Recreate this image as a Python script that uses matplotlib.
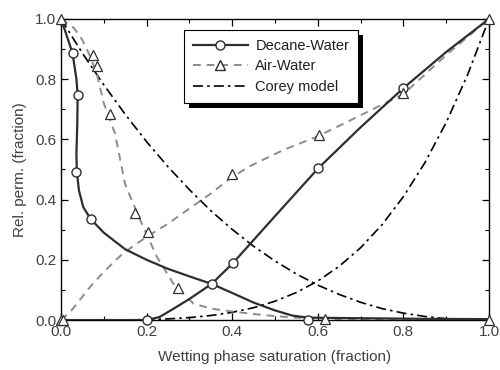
import matplotlib
matplotlib.use("Agg")
import matplotlib.pyplot as plt
from matplotlib.lines import Line2D
from matplotlib.patches import Rectangle
from matplotlib.ticker import MultipleLocator

plt.rcParams['font.family'] = ['Liberation Sans', 'DejaVu Sans']

# measured points (markers)
dw_x = [0.027, 0.040, 0.035, 0.069, 0.352, 0.576, 0.202, 0.401, 0.601, 0.800]
dw_y = [0.886, 0.748, 0.493, 0.336, 0.120, 0.000, 0.000, 0.188, 0.504, 0.770]
aw_x = [0.0, 0.074, 0.083, 0.114, 0.173, 0.204, 0.274, 0.617, 0.0, 0.005, 0.400, 0.603, 0.800, 1.0, 1.0]
aw_y = [1.0, 0.880, 0.845, 0.684, 0.354, 0.293, 0.105, 0.003, 0.0, 0.0, 0.485, 0.615, 0.753, 1.0, 0.0]

# fitted curves
dw_nw_x = [0.0, 0.012, 0.027, 0.036, 0.039, 0.038, 0.036, 0.037, 0.042, 0.052, 0.069, 0.10, 0.15, 0.20,
           0.25, 0.30, 0.352, 0.40, 0.45, 0.50, 0.54, 0.576, 0.70, 0.85, 1.0]
dw_nw_y = [1.0, 0.95, 0.886, 0.80, 0.748, 0.65, 0.55, 0.493, 0.43, 0.375, 0.336, 0.29, 0.235, 0.20,
           0.17, 0.145, 0.12, 0.09, 0.058, 0.032, 0.015, 0.008, 0.006, 0.004, 0.003]
dw_w_x = [0.0, 0.10, 0.20, 0.23, 0.26, 0.30, 0.352, 0.401, 0.50, 0.601, 0.70, 0.80, 0.90, 1.0]
dw_w_y = [0.0, 0.0, 0.0, 0.01, 0.035, 0.07, 0.12, 0.188, 0.345, 0.504, 0.64, 0.77, 0.89, 1.0]

aw_nw_x = [0.0, 0.03, 0.05, 0.07, 0.085, 0.10, 0.126, 0.15, 0.185, 0.224, 0.262, 0.309, 0.35, 0.403,
           0.45, 0.50, 0.55, 0.617, 0.80, 1.0]
aw_nw_y = [1.0, 0.97, 0.93, 0.87, 0.81, 0.72, 0.62, 0.45, 0.332, 0.21, 0.122, 0.055, 0.038, 0.028,
           0.02, 0.013, 0.008, 0.004, 0.003, 0.003]
aw_w_x = [0.0, 0.025, 0.068, 0.10, 0.145, 0.20, 0.25, 0.30, 0.35, 0.395, 0.44, 0.52, 0.60, 0.70, 0.80, 0.90, 1.0]
aw_w_y = [0.0, 0.033, 0.11, 0.16, 0.222, 0.276, 0.32, 0.37, 0.42, 0.47, 0.51, 0.565, 0.61, 0.68, 0.75, 0.88, 1.0]

corey_x = [0.0, 0.05, 0.10, 0.15, 0.20, 0.25, 0.30, 0.35, 0.40, 0.45, 0.50,
           0.55, 0.60, 0.65, 0.70, 0.75, 0.80, 0.85, 0.90, 0.95, 1.0]
corey_nw = [1.0, 0.886, 0.781, 0.683, 0.592, 0.509, 0.433, 0.363, 0.301, 0.245, 0.196,
            0.153, 0.116, 0.085, 0.059, 0.038, 0.023, 0.012, 0.0045, 0.001, 0.0]
corey_w = [0.0, 0.0, 0.0001, 0.0005, 0.0016, 0.0039, 0.0081, 0.015, 0.0256, 0.041, 0.0625,
           0.0915, 0.1296, 0.1785, 0.2401, 0.3164, 0.4096, 0.522, 0.6561, 0.8145, 1.0]

dark = '#2e2e2e'
grey = '#8c8c8c'
dashdot = (0, (6, 2.5, 1.5, 2.5))
dashed = (0, (4, 3))

fig = plt.figure(figsize=(5, 3.7), dpi=100)
ax = fig.add_axes([0.122, 0.135, 0.856, 0.814])

ax.plot(corey_x, corey_nw, color='black', lw=1.2, linestyle=dashdot, zorder=2)
ax.plot(corey_x, corey_w, color='black', lw=1.2, linestyle=dashdot, zorder=2)
ax.plot(aw_nw_x, aw_nw_y, color=grey, lw=1.4, linestyle=dashed, zorder=2)
ax.plot(aw_w_x, aw_w_y, color=grey, lw=1.4, linestyle=dashed, zorder=2)
ax.plot(dw_nw_x, dw_nw_y, color=dark, lw=1.6, zorder=3)
ax.plot(dw_w_x, dw_w_y, color=dark, lw=1.6, zorder=3)
ax.plot(dw_x, dw_y, 'o', ms=6.5, mfc='white', mec=dark, mew=1.0, zorder=4, clip_on=False)
ax.plot(aw_x, aw_y, '^', ms=7.5, mfc='white', mec=dark, mew=0.9, zorder=5, clip_on=False)

ax.set_xlim(0, 1)
ax.set_ylim(0, 1)
ax.xaxis.set_major_locator(MultipleLocator(0.2))
ax.xaxis.set_minor_locator(MultipleLocator(0.1))
ax.yaxis.set_major_locator(MultipleLocator(0.2))
ax.yaxis.set_minor_locator(MultipleLocator(0.1))
ax.xaxis.set_major_formatter(lambda v, p: f'{v:.1f}')
ax.yaxis.set_major_formatter(lambda v, p: f'{v:.1f}')
ax.tick_params(which='both', direction='in', top=True, right=True, colors='black',
               labelcolor='#404040', labelsize=11)
ax.tick_params(which='major', length=5, width=0.9)
ax.tick_params(which='minor', length=3, width=0.8)
for s in ax.spines.values():
    s.set_linewidth(1.0)

ax.set_xlabel('Wetting phase saturation (fraction)', fontsize=11, color='#404040', labelpad=8)
ax.set_ylabel('Rel. perm. (fraction)', fontsize=11, color='#404040', labelpad=6)

handles = [
    Line2D([], [], color=dark, lw=1.6, marker='o', ms=6.5, mfc='white', mec=dark),
    Line2D([], [], color=grey, lw=1.4, linestyle=dashed, marker='^', ms=7.5, mfc='white', mec=dark),
    Line2D([], [], color='black', lw=1.2, linestyle=dashdot),
]
leg = ax.legend(handles, ['Decane-Water', 'Air-Water', 'Corey model'],
                loc='upper left', bbox_to_anchor=(0.287, 0.963), borderaxespad=0,
                fontsize=10.5, handlelength=3.8, handletextpad=0.5, labelspacing=0.45,
                borderpad=0.6, fancybox=False, framealpha=1, edgecolor='black',
                labelcolor='#202020')
leg.get_frame().set_linewidth(0.8)
leg.set_zorder(10)

# black drop shadow behind the legend box, placed in axes fraction
fig.canvas.draw()
bb = leg.get_window_extent().translated(5, -5).transformed(ax.transAxes.inverted())
shadow = Rectangle((bb.x0, bb.y0), bb.width, bb.height, transform=ax.transAxes,
                   facecolor='black', edgecolor='none', zorder=9, clip_on=False)
ax.add_patch(shadow)

fig.savefig('out.png', dpi=100)
